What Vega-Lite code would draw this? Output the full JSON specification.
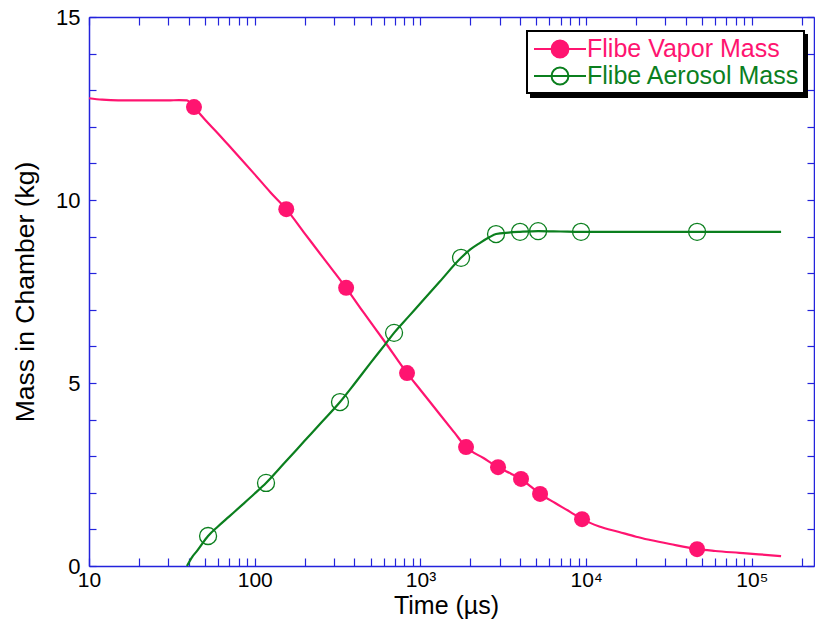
{
  "$schema": "https://vega.github.io/schema/vega-lite/v6.json",
  "width": 725,
  "height": 549,
  "autosize": {"type": "none"},
  "padding": {"left": 89, "top": 17, "right": 1, "bottom": 56},
  "background": "white",
  "config": {
    "view": {"stroke": null},
    "font": "Liberation Sans",
    "axis": {
      "domainColor": "#2323dc",
      "domainWidth": 1.5,
      "tickColor": "#2323dc",
      "tickWidth": 1.2,
      "labelFont": "Liberation Sans",
      "labelColor": "black",
      "titleFont": "Liberation Sans",
      "titleColor": "black",
      "titleFontWeight": "normal",
      "grid": false
    }
  },
  "datasets": {
    "curves": [
      {"series": "Flibe Vapor Mass", "t": 10, "mass": 12.78},
      {"series": "Flibe Vapor Mass", "t": 12, "mass": 12.74},
      {"series": "Flibe Vapor Mass", "t": 15, "mass": 12.72},
      {"series": "Flibe Vapor Mass", "t": 20, "mass": 12.72},
      {"series": "Flibe Vapor Mass", "t": 25, "mass": 12.72},
      {"series": "Flibe Vapor Mass", "t": 30, "mass": 12.72},
      {"series": "Flibe Vapor Mass", "t": 35, "mass": 12.73},
      {"series": "Flibe Vapor Mass", "t": 39, "mass": 12.72},
      {"series": "Flibe Vapor Mass", "t": 41, "mass": 12.65},
      {"series": "Flibe Vapor Mass", "t": 43, "mass": 12.54},
      {"series": "Flibe Vapor Mass", "t": 50, "mass": 12.2},
      {"series": "Flibe Vapor Mass", "t": 60, "mass": 11.82},
      {"series": "Flibe Vapor Mass", "t": 75, "mass": 11.33},
      {"series": "Flibe Vapor Mass", "t": 100, "mass": 10.7},
      {"series": "Flibe Vapor Mass", "t": 125, "mass": 10.2},
      {"series": "Flibe Vapor Mass", "t": 155, "mass": 9.75},
      {"series": "Flibe Vapor Mass", "t": 200, "mass": 9.09},
      {"series": "Flibe Vapor Mass", "t": 260, "mass": 8.41},
      {"series": "Flibe Vapor Mass", "t": 356, "mass": 7.6},
      {"series": "Flibe Vapor Mass", "t": 450, "mass": 6.95},
      {"series": "Flibe Vapor Mass", "t": 611, "mass": 6.12},
      {"series": "Flibe Vapor Mass", "t": 830, "mass": 5.27},
      {"series": "Flibe Vapor Mass", "t": 1000, "mass": 4.81},
      {"series": "Flibe Vapor Mass", "t": 1300, "mass": 4.16},
      {"series": "Flibe Vapor Mass", "t": 1600, "mass": 3.65},
      {"series": "Flibe Vapor Mass", "t": 1884, "mass": 3.25},
      {"series": "Flibe Vapor Mass", "t": 2400, "mass": 2.95},
      {"series": "Flibe Vapor Mass", "t": 2939, "mass": 2.7},
      {"series": "Flibe Vapor Mass", "t": 3500, "mass": 2.53},
      {"series": "Flibe Vapor Mass", "t": 4045, "mass": 2.38},
      {"series": "Flibe Vapor Mass", "t": 4600, "mass": 2.18},
      {"series": "Flibe Vapor Mass", "t": 5270, "mass": 1.97},
      {"series": "Flibe Vapor Mass", "t": 6500, "mass": 1.72},
      {"series": "Flibe Vapor Mass", "t": 8000, "mass": 1.48},
      {"series": "Flibe Vapor Mass", "t": 9440, "mass": 1.28},
      {"series": "Flibe Vapor Mass", "t": 12000, "mass": 1.08},
      {"series": "Flibe Vapor Mass", "t": 15800, "mass": 0.93},
      {"series": "Flibe Vapor Mass", "t": 20000, "mass": 0.8},
      {"series": "Flibe Vapor Mass", "t": 24400, "mass": 0.71},
      {"series": "Flibe Vapor Mass", "t": 32000, "mass": 0.6},
      {"series": "Flibe Vapor Mass", "t": 46700, "mass": 0.46},
      {"series": "Flibe Vapor Mass", "t": 60000, "mass": 0.41},
      {"series": "Flibe Vapor Mass", "t": 84000, "mass": 0.36},
      {"series": "Flibe Vapor Mass", "t": 110000, "mass": 0.32},
      {"series": "Flibe Vapor Mass", "t": 150000, "mass": 0.27},
      {"series": "Flibe Aerosol Mass", "t": 39, "mass": 0},
      {"series": "Flibe Aerosol Mass", "t": 42, "mass": 0.25},
      {"series": "Flibe Aerosol Mass", "t": 45, "mass": 0.42},
      {"series": "Flibe Aerosol Mass", "t": 52.3, "mass": 0.82},
      {"series": "Flibe Aerosol Mass", "t": 60, "mass": 1.08},
      {"series": "Flibe Aerosol Mass", "t": 70, "mass": 1.35},
      {"series": "Flibe Aerosol Mass", "t": 85, "mass": 1.69},
      {"series": "Flibe Aerosol Mass", "t": 100, "mass": 1.98},
      {"series": "Flibe Aerosol Mass", "t": 117, "mass": 2.27},
      {"series": "Flibe Aerosol Mass", "t": 150, "mass": 2.8},
      {"series": "Flibe Aerosol Mass", "t": 200, "mass": 3.42},
      {"series": "Flibe Aerosol Mass", "t": 250, "mass": 3.9},
      {"series": "Flibe Aerosol Mass", "t": 327, "mass": 4.48},
      {"series": "Flibe Aerosol Mass", "t": 400, "mass": 4.98},
      {"series": "Flibe Aerosol Mass", "t": 500, "mass": 5.55},
      {"series": "Flibe Aerosol Mass", "t": 611, "mass": 6.05},
      {"series": "Flibe Aerosol Mass", "t": 693, "mass": 6.37},
      {"series": "Flibe Aerosol Mass", "t": 850, "mass": 6.82},
      {"series": "Flibe Aerosol Mass", "t": 1000, "mass": 7.18},
      {"series": "Flibe Aerosol Mass", "t": 1313, "mass": 7.78},
      {"series": "Flibe Aerosol Mass", "t": 1758, "mass": 8.42},
      {"series": "Flibe Aerosol Mass", "t": 2000, "mass": 8.65},
      {"series": "Flibe Aerosol Mass", "t": 2290, "mass": 8.83},
      {"series": "Flibe Aerosol Mass", "t": 2600, "mass": 8.98},
      {"series": "Flibe Aerosol Mass", "t": 2858, "mass": 9.07},
      {"series": "Flibe Aerosol Mass", "t": 3400, "mass": 9.11},
      {"series": "Flibe Aerosol Mass", "t": 3990, "mass": 9.13},
      {"series": "Flibe Aerosol Mass", "t": 5130, "mass": 9.15},
      {"series": "Flibe Aerosol Mass", "t": 7000, "mass": 9.14},
      {"series": "Flibe Aerosol Mass", "t": 9310, "mass": 9.13},
      {"series": "Flibe Aerosol Mass", "t": 20000, "mass": 9.13},
      {"series": "Flibe Aerosol Mass", "t": 46700, "mass": 9.13},
      {"series": "Flibe Aerosol Mass", "t": 100000, "mass": 9.13},
      {"series": "Flibe Aerosol Mass", "t": 150000, "mass": 9.13}
    ],
    "markers": [
      {"series": "Flibe Vapor Mass", "t": 43, "mass": 12.54},
      {"series": "Flibe Vapor Mass", "t": 155, "mass": 9.75},
      {"series": "Flibe Vapor Mass", "t": 356, "mass": 7.6},
      {"series": "Flibe Vapor Mass", "t": 830, "mass": 5.27},
      {"series": "Flibe Vapor Mass", "t": 1884, "mass": 3.25},
      {"series": "Flibe Vapor Mass", "t": 2939, "mass": 2.7},
      {"series": "Flibe Vapor Mass", "t": 4045, "mass": 2.38},
      {"series": "Flibe Vapor Mass", "t": 5270, "mass": 1.97},
      {"series": "Flibe Vapor Mass", "t": 9440, "mass": 1.28},
      {"series": "Flibe Vapor Mass", "t": 46700, "mass": 0.46},
      {"series": "Flibe Aerosol Mass", "t": 52.3, "mass": 0.82},
      {"series": "Flibe Aerosol Mass", "t": 117, "mass": 2.27},
      {"series": "Flibe Aerosol Mass", "t": 327, "mass": 4.48},
      {"series": "Flibe Aerosol Mass", "t": 693, "mass": 6.37},
      {"series": "Flibe Aerosol Mass", "t": 1758, "mass": 8.42},
      {"series": "Flibe Aerosol Mass", "t": 2858, "mass": 9.07},
      {"series": "Flibe Aerosol Mass", "t": 3990, "mass": 9.13},
      {"series": "Flibe Aerosol Mass", "t": 5130, "mass": 9.15},
      {"series": "Flibe Aerosol Mass", "t": 9310, "mass": 9.13},
      {"series": "Flibe Aerosol Mass", "t": 46700, "mass": 9.13}
    ]
  },
  "layer": [
    {
      "data": {"name": "curves"},
      "transform": [{"filter": "datum.series === 'Flibe Vapor Mass'"}],
      "mark": {"type": "line", "strokeWidth": 2.2, "interpolate": "monotone"},
      "encoding": {
        "x": {
          "field": "t", "type": "quantitative",
          "scale": {"type": "log", "domain": [10, 237000], "nice": false},
          "axis": {
            "orient": "bottom",
            "title": "Time (µs)",
            "titleFontSize": 25,
            "titlePadding": 3,
            "titleX": 357,
            "values": [10,20,30,40,50,60,70,80,90,100,200,300,400,500,600,700,800,900,1000,2000,3000,4000,5000,6000,7000,8000,9000,10000,20000,30000,40000,50000,60000,70000,80000,90000,100000,200000],
            "labelExpr": "datum.value === 10 ? '10' : datum.value === 100 ? '100' : datum.value === 1000 ? '10³' : datum.value === 10000 ? '10⁴' : datum.value === 100000 ? '10⁵' : ''",
            "labelFontSize": 21,
            "labelPadding": 11,
            "labelFlush": false,
            "labelOverlap": false,
            "tickSize": -8,
            "encode": {"ticks": {"update": {"y2": {"signal": "abs(log(datum.value)/LN10 - round(log(datum.value)/LN10)) < 0.001 ? -8 : -4"}}}}
          }
        },
        "y": {
          "field": "mass", "type": "quantitative",
          "scale": {"domain": [0, 15], "nice": false},
          "axis": {
            "orient": "left",
            "title": "Mass in Chamber (kg)",
            "titleFontSize": 26.5,
            "titlePadding": 16,
            "values": [0,1,2,3,4,5,6,7,8,9,10,11,12,13,14,15],
            "labelExpr": "datum.value % 5 === 0 ? datum.label : ''",
            "labelFontSize": 22,
            "labelPadding": 16,
            "labelOverlap": false,
            "labelFlush": false,
            "tickSize": -7,
            "encode": {"ticks": {"update": {"x2": {"signal": "datum.value % 5 === 0 ? 7 : 4"}}}}
          }
        },
        "color": {
          "field": "series", "type": "nominal",
          "scale": {"domain": ["Flibe Vapor Mass", "Flibe Aerosol Mass"], "range": ["#ff1470", "#0b7f1e"]},
          "legend": {
            "orient": "none",
            "legendX": 438,
            "legendY": 14,
            "zindex": 2,
            "title": null,
            "direction": "vertical",
            "fillColor": "white",
            "strokeColor": "black",
            "padding": 4,
            "symbolType": "M-2,0L2,0M0.65,0A0.65,0.65 0 1,1 -0.65,0A0.65,0.65 0 1,1 0.65,0Z",
            "symbolSize": 676,
            "symbolStrokeWidth": 2,
            "symbolOffset": 15,
            "labelOffset": 13,
            "labelFontSize": 25,
            "labelLimit": 500,
            "labelFont": "Liberation Sans",
            "rowPadding": 0,
            "encode": {
              "legend": {"update": {"strokeWidth": {"value": 2}}},
              "labels": {"update": {"fill": {"signal": "datum.value === 'Flibe Vapor Mass' ? '#ff1470' : '#0b7f1e'"}}},
              "symbols": {"update": {"fill": {"signal": "datum.value === 'Flibe Vapor Mass' ? '#ff1470' : 'white'"}, "stroke": {"signal": "datum.value === 'Flibe Vapor Mass' ? '#ff1470' : '#0b7f1e'"}, "opacity": {"value": 1}}}
            }
          }
        }
      }
    },
    {
      "data": {"name": "curves"},
      "transform": [{"filter": "datum.series === 'Flibe Aerosol Mass'"}],
      "mark": {"type": "line", "strokeWidth": 2.2, "interpolate": "monotone"},
      "encoding": {
        "x": {
          "field": "t", "type": "quantitative",
          "axis": {
            "orient": "top",
            "title": null,
            "labels": false,
            "values": [10,20,30,40,50,60,70,80,90,100,200,300,400,500,600,700,800,900,1000,2000,3000,4000,5000,6000,7000,8000,9000,10000,20000,30000,40000,50000,60000,70000,80000,90000,100000,200000],
            "tickSize": -8,
            "encode": {"ticks": {"update": {"y2": {"signal": "abs(log(datum.value)/LN10 - round(log(datum.value)/LN10)) < 0.001 ? 8 : 4"}}}}
          }
        },
        "y": {
          "field": "mass", "type": "quantitative",
          "axis": {
            "orient": "right",
            "title": null,
            "labels": false,
            "values": [0,1,2,3,4,5,6,7,8,9,10,11,12,13,14,15],
            "tickSize": -7,
            "encode": {"ticks": {"update": {"x2": {"signal": "datum.value % 5 === 0 ? -7 : -4"}}}}
          }
        },
        "color": {"field": "series", "type": "nominal"},
        "opacity": {
          "field": "series", "type": "nominal",
          "scale": {"domain": ["Flibe Aerosol Mass", "Flibe Vapor Mass"], "range": [1, 1]},
          "legend": {
            "orient": "none",
            "legendX": 442,
            "legendY": 18,
            "zindex": 1,
            "title": null,
            "direction": "vertical",
            "fillColor": "black",
            "strokeColor": "black",
            "padding": 4,
            "symbolType": "M-2,0L2,0M0.65,0A0.65,0.65 0 1,1 -0.65,0A0.65,0.65 0 1,1 0.65,0Z",
            "symbolSize": 676,
            "symbolStrokeWidth": 2,
            "symbolOffset": 15,
            "labelOffset": 223,
            "labelFontSize": 4,
            "labelLimit": 500,
            "labelFont": "Liberation Sans",
            "labelColor": "black",
            "labelExpr": "'.'",
            "rowPadding": 0,
            "encode": {
              "legend": {"update": {"strokeWidth": {"value": 2}}},
              "labels": {"update": {"fill": {"value": "black"}}},
              "symbols": {"update": {"fill": {"value": "black"}, "stroke": {"value": "black"}, "opacity": {"value": 1}}}
            }
          }
        }
      }
    },
    {
      "data": {"name": "markers"},
      "transform": [{"filter": "datum.series === 'Flibe Vapor Mass'"}],
      "mark": {"type": "point", "shape": "circle", "filled": true, "size": 256, "color": "#ff1470", "opacity": 1},
      "encoding": {
        "x": {"field": "t", "type": "quantitative", "axis": null},
        "y": {"field": "mass", "type": "quantitative", "axis": null}
      }
    },
    {
      "data": {"name": "markers"},
      "transform": [{"filter": "datum.series === 'Flibe Aerosol Mass'"}],
      "mark": {"type": "point", "shape": "circle", "filled": false, "size": 289, "stroke": "#0b7f1e", "strokeWidth": 1.3, "opacity": 1},
      "encoding": {
        "x": {"field": "t", "type": "quantitative", "axis": null},
        "y": {"field": "mass", "type": "quantitative", "axis": null}
      }
    }
  ],
  "resolve": {"axis": {"x": "independent", "y": "independent"}}
}
